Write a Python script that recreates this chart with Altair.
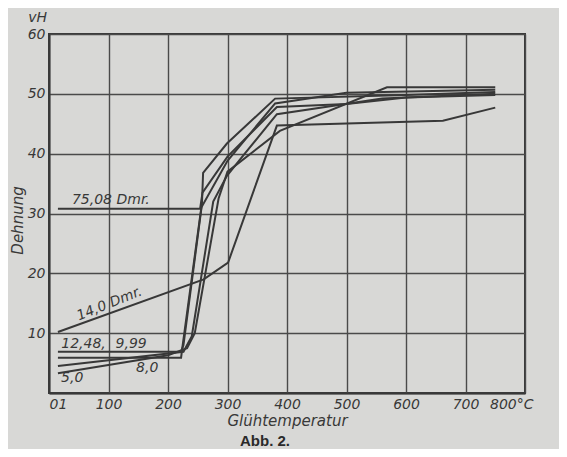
import altair as alt
import pandas as pd

# Glühtemperatur (°C) and Dehnung (vH) per series
series_names = ["12,48", "9,99", "8,0", "5,0", "75,08", "14,0"]
temps = {
    "12,48": [15, 222, 226, 257, 259, 299, 380, 600, 750],
    "9,99":  [15, 222, 224, 256, 300, 380, 500, 750],
    "8,0":   [15, 226, 240, 276, 299, 329, 383, 560, 750],
    "5,0":   [15, 200, 232, 245, 285, 300, 388, 568, 750],
    "75,08": [15, 254, 258, 300, 383, 500, 600, 750],
    "14,0":  [15, 260, 301, 383, 662, 750],
}
dehnung = {
    "12,48": [6.9, 6.9, 8.0, 31.5, 36.8, 41.7, 49.2, 49.8, 50.3],
    "9,99":  [5.9, 5.9, 7.5, 31.0, 38.8, 48.4, 50.2, 50.7],
    "8,0":   [4.5, 6.9, 9.5, 32.0, 36.3, 40.0, 46.6, 49.2, 50.0],
    "5,0":   [3.3, 6.3, 7.5, 10.0, 32.5, 37.0, 43.8, 51.1, 51.1],
    "75,08": [30.8, 30.8, 33.5, 39.5, 47.8, 48.3, 49.4, 49.8],
    "14,0":  [10.2, 19.0, 21.8, 44.7, 45.5, 47.7],
}

label_texts = ["75,08 Dmr.", "14,0 Dmr.", "12,48,", "9,99", "8,0", "5,0"]
label_x = [104, 106, 58, 138, 165, 39]
label_y = [31.1, 13.8, 7.1, 7.1, 3.0, 1.3]
label_angle = [0, 338, 0, 0, 0, 0]

x_ticks = [0, 100, 200, 300, 400, 500, 600, 700, 800]
y_ticks = [0, 10, 20, 30, 40, 50, 60]

rows = []
for s in series_names:
    for i, (t, d) in enumerate(zip(temps[s], dehnung[s])):
        rows.append({"series": s, "idx": i, "temp": t, "dehnung": d})
df = pd.DataFrame(rows)

lab = pd.DataFrame({"text": label_texts, "x": label_x, "y": label_y, "angle": label_angle})

ink = "#383838"
font = "DejaVu Sans"

xs = alt.Scale(domain=[0, 800], nice=False)
ys = alt.Scale(domain=[0, 60], nice=False)

lines = alt.Chart(df).mark_line(color=ink, strokeWidth=2).encode(
    x=alt.X("temp:Q", scale=xs,
            axis=alt.Axis(values=x_ticks, title="Glühtemperatur", grid=True,
                          labelOverlap=False,
                          labelExpr="datum.value == 0 ? '01' : datum.value == 800 ? '800°C' : datum.label",
                          labelOffset={"condition": {"test": "datum.value == 800", "value": 8}, "value": 0},
                          titleY=27, titleBaseline="middle")),
    y=alt.Y("dehnung:Q", scale=ys,
            axis=alt.Axis(values=y_ticks, title="Dehnung", grid=True,
                          labelOverlap=False,
                          labelExpr="datum.value == 0 ? '' : datum.label",
                          titleX=-32, titleY=186, titleAngle=270,
                          titleAlign="center", titleBaseline="middle")),
    detail="series:N",
    order="idx:Q",
)

texts = alt.Chart(lab).mark_text(font=font, fontStyle="italic", fontSize=14,
                                 color=ink, align="center", baseline="bottom").encode(
    x=alt.X("x:Q", scale=xs),
    y=alt.Y("y:Q", scale=ys),
    text="text:N",
    angle=alt.Angle("angle:Q", scale=None),
)

unit = alt.Chart(pd.DataFrame({"t": ["vH"]})).mark_text(
    font=font, fontStyle="italic", fontSize=14, color=ink, align="right", baseline="bottom"
).encode(x=alt.value(-2), y=alt.value(-9), text="t:N")

caption = alt.Chart(pd.DataFrame({"t": ["Abb. 2."]})).mark_text(
    font="Liberation Sans", fontWeight="bold", fontSize=15, color="#2a2a2a",
    align="center", baseline="middle"
).encode(x=alt.value(216), y=alt.value(407), text="t:N")

chart = alt.layer(lines, texts, unit, caption).properties(
    width=476, height=359,
    autosize="none",
    padding={"left": 41, "top": 26, "right": 34, "bottom": 56},
    background="#d8d8d6",
).configure_view(
    stroke=ink, strokeWidth=2
).configure_axis(
    gridColor="#4a4a4a", gridWidth=1.4, gridOpacity=1,
    domainColor=ink, domainWidth=2,
    ticks=False,
    labelFont=font, labelFontStyle="italic", labelFontSize=14, labelColor=ink,
    titleFont=font, titleFontStyle="italic", titleFontSize=15, titleColor=ink,
    titleFontWeight="normal", labelPadding=4,
)

chart.save("out.html", embed_options={"renderer": "svg", "actions": False})
